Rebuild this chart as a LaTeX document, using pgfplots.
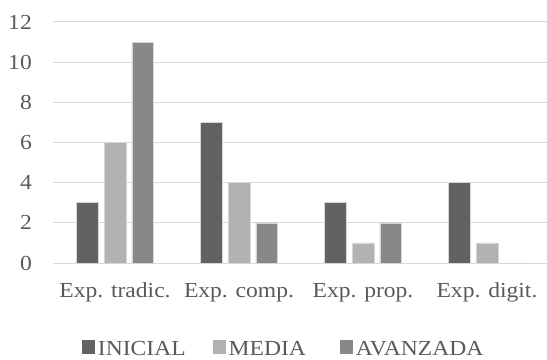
\documentclass[border=0pt]{standalone}
\usepackage{pgfplots}
\pgfplotsset{compat=1.18}
\usepackage{fontspec}
\setmainfont[FakeStretch=1.1]{Liberation Serif}
\definecolor{cA}{HTML}{626262}
\definecolor{cB}{HTML}{B2B2B2}
\definecolor{cC}{HTML}{888888}
\definecolor{gridc}{HTML}{D9D9D9}
\definecolor{edgec}{HTML}{D6D6D6}
\definecolor{txt}{HTML}{595959}
\begin{document}
\begin{tikzpicture}
\useasboundingbox (-53bp,-97bp) rectangle (494bp,263bp);
\begin{axis}[
  at={(0,0)}, anchor=south west,
  scale only axis, width=494bp, height=241bp,
  xmin=-0.5, xmax=3.484, ymin=0, ymax=12,
  ytick={0,2,...,12},
  xtick={0,1,2,3},
  xticklabels={Exp. tradic., Exp. comp., Exp. prop., Exp. digit.},
  ymajorgrids, grid style={gridc, line width=1bp},
  axis line style={draw=none},
  major tick length=0pt,
  /pgf/number format/assume math mode=true,
  ticklabel style={font=\fontsize{21.5}{25}\selectfont, text=txt, inner sep=0pt},
  yticklabel style={anchor=east, xshift=-21bp},
  xticklabel style={anchor=base, yshift=-34.7bp},
  ybar=6bp, bar width=21.7bp,
  every axis plot/.append style={draw=edgec, line width=0.6bp},
  legend columns=3,
  legend style={at={(axis description cs:0.0587,-0.358)}, anchor=base west,
    draw=none, fill=none, inner sep=0pt, outer sep=0pt,
    font=\fontsize{21.5}{25}\selectfont, text=txt,
    nodes={inner sep=0pt},
    /tikz/every odd column/.append style={column sep=3bp},
    /tikz/column 2/.append style={column sep=27bp},
    /tikz/column 4/.append style={column sep=34bp}},
  legend image code/.code={\fill[#1,draw=none] (0bp,-5bp) rectangle (13bp,9bp);},
]
\addplot[fill=cA] coordinates {(0,3) (1,7) (2,3) (3,4)};
\addplot[fill=cB] coordinates {(0,6) (1,4) (2,1) (3,1)};
\addplot[fill=cC] coordinates {(0,11) (1,2) (2,2) (3,0)};
\legend{INICIAL, MEDIA, AVANZADA}
\end{axis}
\end{tikzpicture}
\end{document}
